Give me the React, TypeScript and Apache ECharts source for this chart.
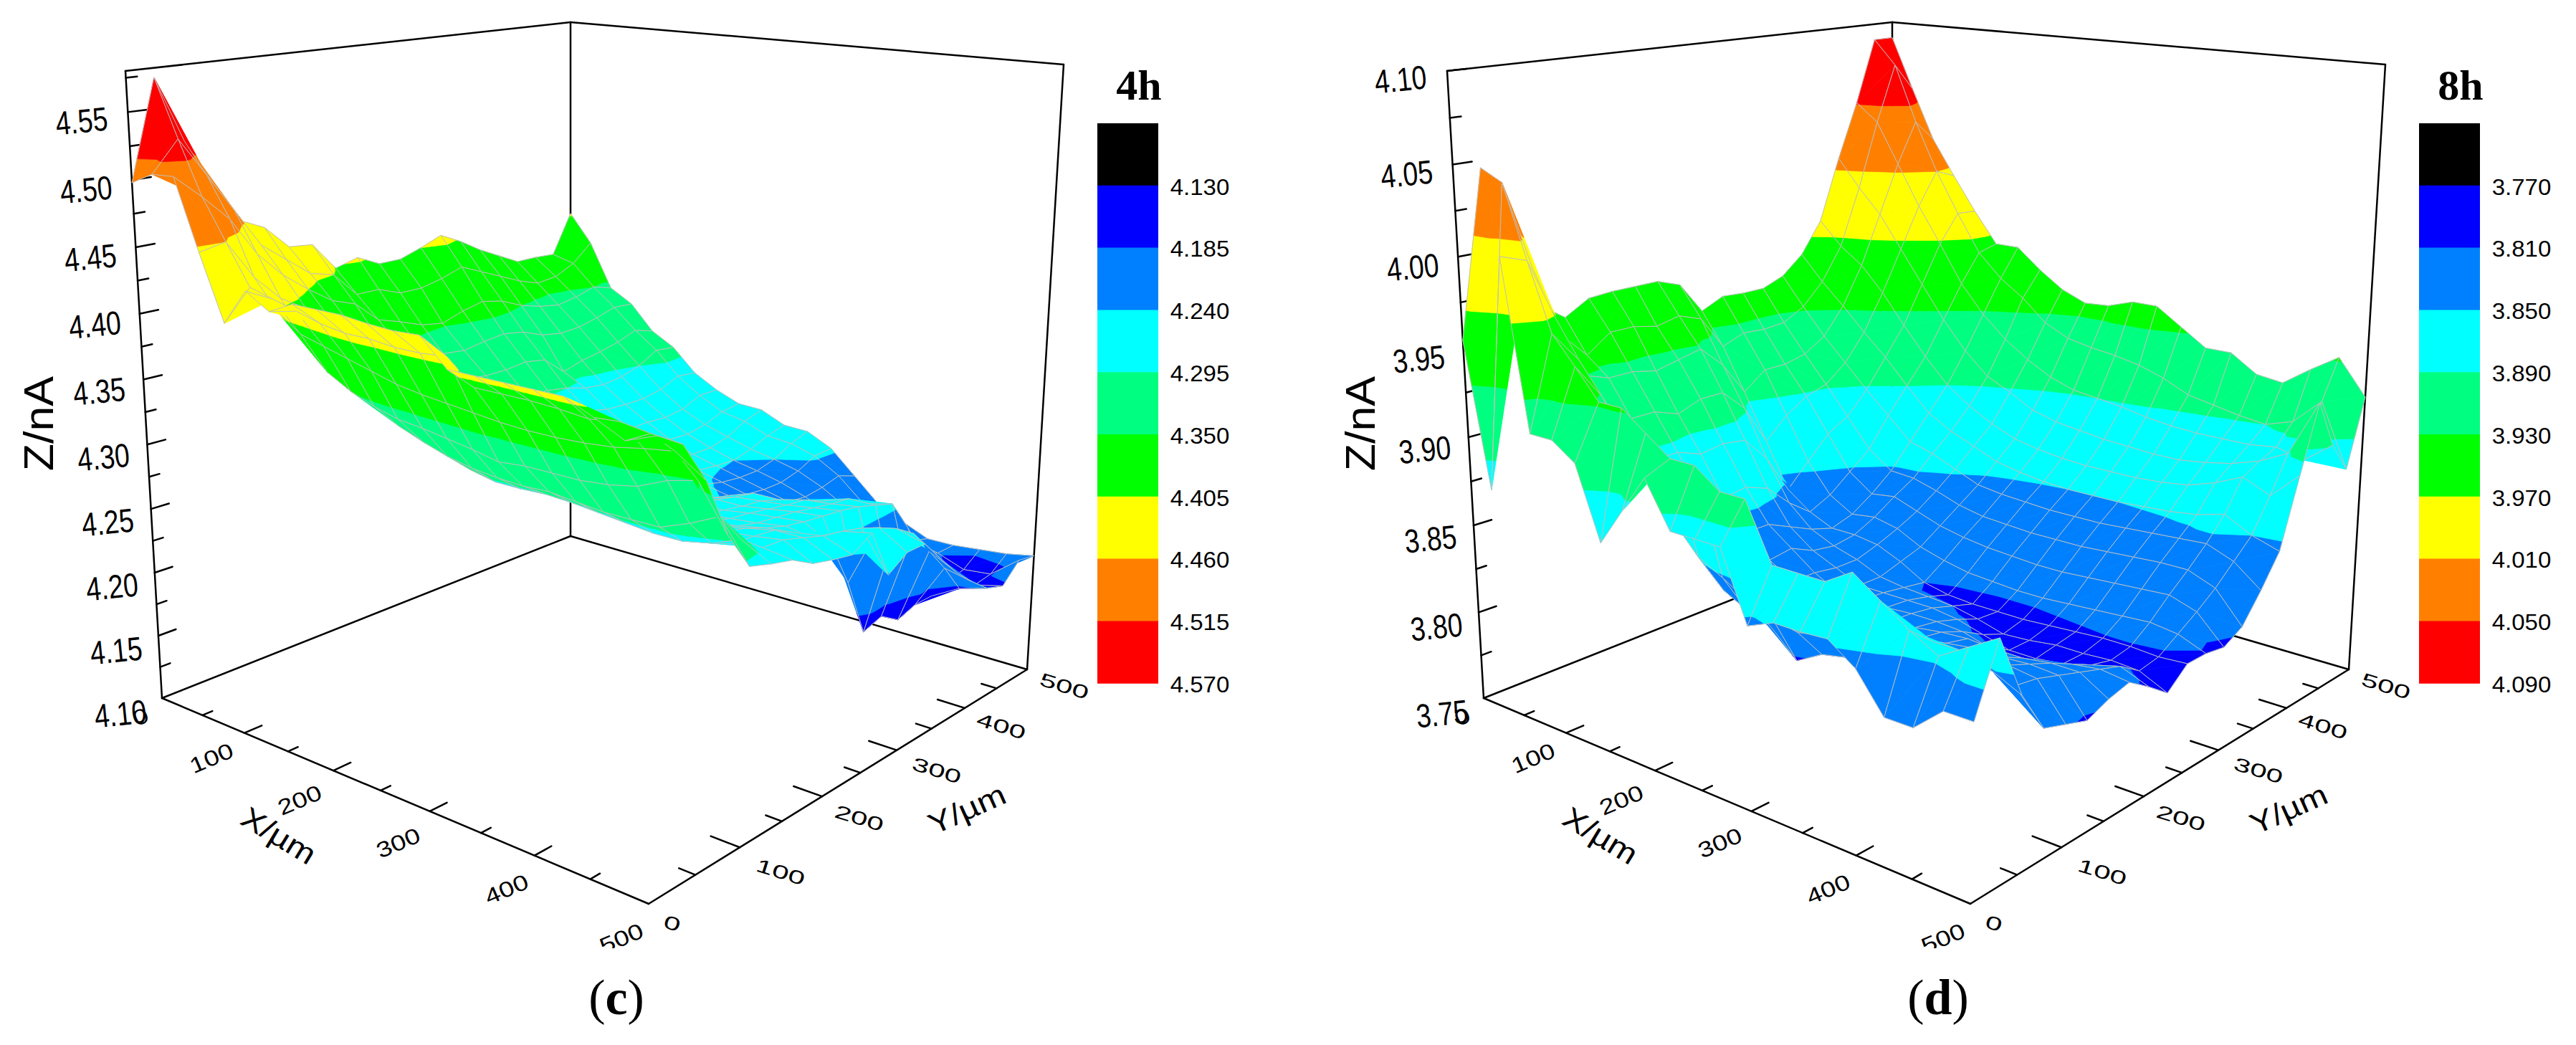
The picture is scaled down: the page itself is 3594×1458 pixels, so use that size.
import React, { useEffect, useRef } from "react";
import * as echarts from "echarts";

// Surface heights: row = X step (25 um), column = Y step (25 um)
const z4h = [
[4.498,4.573,4.523,4.489,4.456,4.447,4.428,4.426,4.403,4.408,4.399,4.399,4.405,4.412,4.403,4.392,4.383,4.374,4.374,4.373,4.407],
[4.507,4.530,4.500,4.470,4.440,4.425,4.410,4.405,4.385,4.385,4.378,4.378,4.382,4.388,4.380,4.372,4.364,4.358,4.360,4.368,4.383],
[4.508,4.490,4.470,4.440,4.420,4.405,4.392,4.385,4.368,4.362,4.355,4.352,4.358,4.362,4.358,4.350,4.345,4.342,4.345,4.350,4.345],
[4.456,4.460,4.430,4.410,4.398,4.385,4.372,4.362,4.350,4.342,4.335,4.333,4.336,4.338,4.335,4.328,4.325,4.326,4.330,4.335,4.334],
[4.408,4.430,4.408,4.385,4.372,4.362,4.350,4.342,4.332,4.325,4.318,4.316,4.316,4.318,4.315,4.300,4.305,4.308,4.312,4.318,4.313],
[4.435,4.425,4.395,4.362,4.345,4.335,4.327,4.320,4.315,4.308,4.302,4.300,4.298,4.298,4.295,4.290,4.288,4.290,4.295,4.304,4.302],
[4.424,4.420,4.390,4.352,4.335,4.322,4.312,4.305,4.300,4.295,4.290,4.287,4.284,4.283,4.280,4.276,4.275,4.275,4.278,4.285,4.283],
[4.433,4.415,4.385,4.345,4.325,4.310,4.300,4.293,4.288,4.284,4.280,4.277,4.274,4.272,4.268,4.264,4.264,4.263,4.265,4.272,4.272],
[4.433,4.412,4.380,4.340,4.318,4.302,4.290,4.284,4.278,4.275,4.272,4.270,4.266,4.263,4.260,4.256,4.254,4.253,4.256,4.262,4.264],
[4.433,4.412,4.375,4.338,4.312,4.296,4.285,4.280,4.274,4.270,4.266,4.263,4.260,4.256,4.252,4.248,4.246,4.246,4.250,4.258,4.263],
[4.431,4.410,4.372,4.335,4.308,4.292,4.284,4.280,4.272,4.266,4.262,4.258,4.254,4.250,4.246,4.243,4.241,4.240,4.244,4.250,4.254],
[4.430,4.410,4.370,4.332,4.306,4.292,4.284,4.278,4.270,4.263,4.258,4.254,4.250,4.246,4.242,4.238,4.236,4.236,4.240,4.248,4.253],
[4.431,4.412,4.368,4.328,4.305,4.293,4.284,4.277,4.268,4.262,4.256,4.252,4.247,4.242,4.238,4.233,4.231,4.231,4.235,4.242,4.243],
[4.412,4.395,4.366,4.330,4.306,4.292,4.284,4.276,4.268,4.261,4.257,4.255,4.252,4.248,4.245,4.232,4.226,4.224,4.226,4.230,4.224],
[4.412,4.395,4.365,4.330,4.304,4.290,4.282,4.276,4.268,4.262,4.258,4.255,4.252,4.250,4.245,4.232,4.221,4.216,4.214,4.212,4.205],
[4.412,4.395,4.365,4.330,4.302,4.288,4.280,4.276,4.270,4.264,4.260,4.258,4.255,4.252,4.250,4.243,4.225,4.208,4.204,4.200,4.195],
[4.412,4.394,4.366,4.332,4.302,4.286,4.280,4.278,4.272,4.266,4.262,4.260,4.258,4.255,4.252,4.250,4.240,4.205,4.194,4.191,4.186],
[4.412,4.392,4.368,4.336,4.302,4.286,4.281,4.280,4.276,4.270,4.265,4.262,4.260,4.258,4.255,4.250,4.245,4.220,4.192,4.186,4.186],
[4.403,4.395,4.372,4.345,4.310,4.290,4.283,4.282,4.280,4.272,4.262,4.250,4.215,4.170,4.175,4.165,4.170,4.170,4.175,4.178,4.188],
[4.393,4.392,4.375,4.350,4.320,4.298,4.286,4.285,4.280,4.275,4.272,4.268,4.262,4.255,4.245,4.225,4.205,4.182,4.178,4.180,4.190],
[4.401,4.390,4.361,4.319,4.292,4.287,4.283,4.274,4.270,4.267,4.276,4.239,4.249,4.249,4.231,4.214,4.200,4.188,4.183,4.197,4.194],
];
const z8h = [
[3.954,4.046,4.005,3.964,3.954,3.962,3.963,3.963,3.963,3.958,3.939,3.945,3.944,3.944,3.949,3.960,3.979,4.017,4.051,4.090,4.090],
[3.874,4.040,3.990,3.950,3.935,3.945,3.945,3.942,3.945,3.940,3.920,3.925,3.924,3.925,3.932,3.945,3.965,4.000,4.040,4.075,4.058],
[4.005,4.000,3.965,3.930,3.925,3.925,3.922,3.925,3.928,3.915,3.895,3.905,3.905,3.908,3.916,3.932,3.955,3.985,4.015,4.040,4.027],
[3.912,3.963,3.945,3.915,3.905,3.905,3.900,3.905,3.905,3.892,3.868,3.880,3.888,3.892,3.902,3.918,3.940,3.965,3.990,4.010,4.005],
[3.912,3.948,3.928,3.900,3.885,3.885,3.880,3.882,3.880,3.865,3.842,3.855,3.868,3.875,3.888,3.905,3.922,3.945,3.968,3.985,3.984],
[3.903,3.932,3.905,3.880,3.866,3.864,3.858,3.860,3.855,3.842,3.832,3.838,3.848,3.858,3.875,3.890,3.905,3.925,3.945,3.962,3.965],
[3.864,3.932,3.890,3.862,3.850,3.846,3.842,3.842,3.836,3.830,3.826,3.830,3.838,3.848,3.862,3.876,3.890,3.908,3.928,3.948,3.965],
[3.885,3.922,3.870,3.845,3.836,3.834,3.830,3.832,3.826,3.824,3.826,3.832,3.840,3.847,3.858,3.868,3.880,3.895,3.915,3.938,3.953],
[3.906,3.912,3.855,3.832,3.826,3.824,3.822,3.822,3.820,3.820,3.824,3.829,3.835,3.843,3.852,3.862,3.872,3.888,3.905,3.925,3.943],
[3.882,3.912,3.848,3.825,3.820,3.818,3.816,3.815,3.814,3.814,3.818,3.822,3.830,3.838,3.846,3.856,3.866,3.880,3.897,3.918,3.937],
[3.882,3.902,3.840,3.820,3.816,3.816,3.816,3.815,3.814,3.812,3.810,3.818,3.827,3.835,3.844,3.853,3.863,3.876,3.892,3.915,3.938],
[3.882,3.902,3.835,3.807,3.815,3.816,3.816,3.815,3.814,3.811,3.807,3.815,3.825,3.834,3.843,3.851,3.861,3.874,3.890,3.913,3.943],
[3.846,3.872,3.832,3.815,3.817,3.818,3.817,3.816,3.814,3.810,3.806,3.814,3.824,3.833,3.842,3.850,3.860,3.872,3.888,3.910,3.943],
[3.852,3.872,3.835,3.818,3.820,3.820,3.818,3.816,3.812,3.807,3.806,3.813,3.823,3.833,3.842,3.850,3.860,3.871,3.885,3.905,3.933],
[3.852,3.872,3.840,3.822,3.822,3.822,3.820,3.815,3.808,3.803,3.806,3.813,3.823,3.833,3.842,3.850,3.860,3.870,3.883,3.898,3.923],
[3.853,3.881,3.845,3.826,3.825,3.824,3.821,3.811,3.804,3.804,3.807,3.814,3.824,3.834,3.843,3.851,3.861,3.870,3.882,3.895,3.923],
[3.843,3.871,3.848,3.830,3.828,3.826,3.820,3.805,3.804,3.806,3.808,3.815,3.825,3.835,3.844,3.852,3.863,3.872,3.882,3.892,3.913],
[3.824,3.861,3.850,3.834,3.830,3.826,3.820,3.808,3.806,3.806,3.809,3.816,3.826,3.836,3.845,3.854,3.868,3.875,3.882,3.890,3.911],
[3.824,3.853,3.850,3.838,3.832,3.827,3.822,3.816,3.810,3.807,3.809,3.817,3.827,3.836,3.846,3.858,3.875,3.880,3.884,3.895,3.922],
[3.837,3.862,3.845,3.832,3.830,3.826,3.822,3.818,3.814,3.806,3.808,3.815,3.822,3.830,3.840,3.850,3.868,3.888,3.880,3.910,3.932],
[3.837,3.871,3.838,3.816,3.812,3.808,3.813,3.816,3.808,3.799,3.809,3.809,3.807,3.813,3.828,3.845,3.883,3.920,3.892,3.874,3.912],
];
const levels4h = [4.13, 4.185, 4.24, 4.295, 4.35, 4.405, 4.46, 4.515, 4.57];
const levels8h = [3.77, 3.81, 3.85, 3.89, 3.93, 3.97, 4.01, 4.05, 4.09];
const levelLabels4h = ["4.130", "4.185", "4.240", "4.295", "4.350", "4.405", "4.460", "4.515", "4.570"];
const levelLabels8h = ["3.770", "3.810", "3.850", "3.890", "3.930", "3.970", "4.010", "4.050", "4.090"];
const bandColors = ["#000000", "#0000ff", "#0080ff", "#00ffff", "#00ff80", "#00ff00", "#ffff00", "#ff8000", "#ff0000"];
const zTicks4h = [4.1, 4.15, 4.2, 4.25, 4.3, 4.35, 4.4, 4.45, 4.5, 4.55];
const zTicks8h = [3.75, 3.8, 3.85, 3.9, 3.95, 4.0, 4.05, 4.1];
const xyTicks = [0, 100, 200, 300, 400, 500];
const xyMinor = [50, 150, 250, 350, 450];

type P = [number, number];
function homography(q: P[]) {
  const [[x0, y0], [x1, y1], [x2, y2], [x3, y3]] = q;
  const dx1 = x1 - x2, dx2 = x3 - x2, sx = x0 - x1 + x2 - x3;
  const dy1 = y1 - y2, dy2 = y3 - y2, sy = y0 - y1 + y2 - y3;
  const den = dx1 * dy2 - dx2 * dy1;
  const g = (sx * dy2 - dx2 * sy) / den, h = (dx1 * sy - sx * dy1) / den;
  const a = x1 - x0 + g * x1, b = x3 - x0 + h * x3, d = y1 - y0 + g * y1, e = y3 - y0 + h * y3;
  return (u: number, v: number): P => {
    const w = g * u + h * v + 1;
    return [(a * u + b * v + x0) / w, (d * u + e * v + y0) / w];
  };
}
const floorH = homography([[226, 974], [905, 1261], [1433, 934], [796, 748]]);
const topH = homography([[175, 99], [926, 199], [1484, 90], [796, 31]]);
const RHO = 0.95;

type Panel = { dx: number; zMin: number; zMax: number; z: number[][]; levels: number[]; levelLabels: string[]; zTicks: number[]; title: string; cap: string };
const panels: Panel[] = [
  { dx: 0, zMin: 4.1, zMax: 4.58, z: z4h, levels: levels4h, levelLabels: levelLabels4h, zTicks: zTicks4h, title: "4h", cap: "c" },
  { dx: 1844, zMin: 3.75, zMax: 4.1, z: z8h, levels: levels8h, levelLabels: levelLabels8h, zTicks: zTicks8h, title: "8h", cap: "d" },
];

function proj(p: Panel, u: number, v: number, z: number): P {
  const t = (z - p.zMin) / (p.zMax - p.zMin);
  const tt = (t * RHO) / (1 - t + t * RHO);
  const f = floorH(u, v), g = topH(u, v);
  return [f[0] + (g[0] - f[0]) * tt + p.dx, f[1] + (g[1] - f[1]) * tt];
}

type V = [number, number, number];
function clip(poly: V[], lo: number, hi: number): V[] {
  const cut = (pts: V[], lim: number, keepAbove: boolean) => {
    const out: V[] = [];
    for (let i = 0; i < pts.length; i++) {
      const A = pts[i], B = pts[(i + 1) % pts.length];
      const ia = keepAbove ? A[2] >= lim : A[2] <= lim;
      const ib = keepAbove ? B[2] >= lim : B[2] <= lim;
      if (ia) out.push(A);
      if (ia !== ib) {
        const s = (lim - A[2]) / (B[2] - A[2]);
        out.push([A[0] + (B[0] - A[0]) * s, A[1] + (B[1] - A[1]) * s, lim]);
      }
    }
    return out;
  };
  let r = poly;
  if (lo > -Infinity) r = cut(r, lo, true);
  if (r.length && hi < Infinity) r = cut(r, hi, false);
  return r;
}

function surfaceSeries(p: Panel) {
  const cells: number[][] = [];
  for (let a = 0; a < 20; a++) for (let b = 0; b < 20; b++) cells.push([a, b]);
  cells.sort((m, n) => m[0] - m[1] - (n[0] - n[1]));
  const n = 20;
  return {
    type: "custom", coordinateSystem: "cartesian2d", silent: true, clip: false, progressive: 0, z: 5,
    data: cells,
    renderItem: (_: any, api: any) => {
      const a = api.value(0), b = api.value(1);
      const c = (i: number, j: number): V => [i / n, j / n, p.z[i][j]];
      const A = c(a, b), B = c(a + 1, b), C = c(a + 1, b + 1), D = c(a, b + 1);
      const toPx = (w: V) => api.coord(proj(p, w[0], w[1], w[2]));
      const children: any[] = [];
      for (const tri of [[A, B, C], [A, C, D]] as V[][]) {
        for (let k = 0; k < bandColors.length; k++) {
          const lo = k === 0 ? -Infinity : p.levels[k - 1];
          const hi = k === bandColors.length - 1 ? Infinity : p.levels[k];
          const part = clip(tri, lo, hi);
          if (part.length >= 3) {
            children.push({ type: "polygon", shape: { points: part.map(toPx) }, style: { fill: bandColors[k], stroke: bandColors[k], lineWidth: 0.7 } });
          }
        }
      }
      children.push({ type: "polygon", shape: { points: [A, B, C, D].map(toPx) }, style: { fill: "none", stroke: "#c0c0c0", lineWidth: 1 } });
      return { type: "group", children };
    },
  };
}

type Seg = { a: P; b: P; w: number };
function frameSegments(p: Panel): Seg[] {
  const { zMin: zn, zMax: zx } = p;
  const L = proj(p, 0, 0, zn), F = proj(p, 1, 0, zn), R = proj(p, 1, 1, zn), B = proj(p, 0, 1, zn);
  const LT = proj(p, 0, 0, zx), RT = proj(p, 1, 1, zx), BT = proj(p, 0, 1, zx);
  const w = 2.5;
  const s: Seg[] = [
    { a: LT, b: BT, w }, { a: BT, b: RT, w }, { a: LT, b: L, w }, { a: RT, b: R, w }, { a: BT, b: B, w },
    { a: L, b: B, w }, { a: B, b: R, w }, { a: L, b: F, w }, { a: F, b: R, w },
  ];
  p.zTicks.forEach((z, i) => {
    if (i > 0) s.push({ a: proj(p, 0, 0, z), b: proj(p, 0, 0.035, z), w });
    const m = z + 0.025;
    if (m < p.zMax) s.push({ a: proj(p, 0, 0, m), b: proj(p, 0, 0.02, m), w });
  });
  xyTicks.forEach((t) => {
    if (t > 0 && t < 500) {
      s.push({ a: proj(p, t / 500, 0, zn), b: proj(p, t / 500, 0.035, zn), w });
      s.push({ a: proj(p, 1, t / 500, zn), b: proj(p, 1 - 0.05, t / 500, zn), w });
    }
  });
  xyMinor.forEach((t) => {
    s.push({ a: proj(p, t / 500, 0, zn), b: proj(p, t / 500, 0.02, zn), w });
    s.push({ a: proj(p, 1, t / 500, zn), b: proj(p, 1 - 0.028, t / 500, zn), w });
  });
  return s;
}

function frameSeries(p: Panel) {
  const segs = frameSegments(p);
  return {
    type: "custom", coordinateSystem: "cartesian2d", silent: true, clip: false, z: 2,
    data: segs.map((_, i) => [i, 0]),
    renderItem: (params: any, api: any) => {
      const s = segs[params.dataIndex];
      const A = api.coord(s.a), B = api.coord(s.b);
      return { type: "line", shape: { x1: A[0], y1: A[1], x2: B[0], y2: B[1] }, style: { stroke: "#000", lineWidth: s.w, lineCap: "round" } };
    },
  };
}

function legendSeries(p: Panel) {
  const x0 = 1531 + p.dx, w = 85, y0 = 172, h = 86.8;
  return {
    type: "custom", coordinateSystem: "cartesian2d", silent: true, clip: false, z: 3,
    data: bandColors.map((_, i) => [i, 0]),
    renderItem: (params: any, api: any) => {
      const i = params.dataIndex;
      const tl = api.coord([x0, y0 + i * h]);
      return { type: "rect", shape: { x: tl[0], y: tl[1], width: w, height: h + 0.5 }, style: { fill: bandColors[i] } };
    },
  };
}

type Lab = { t: string; x: number; y: number; r: number; sx: number; sy: number; font: string };
const SANS = '"Liberation Sans", Arial, sans-serif';
const SERIF = '"Liberation Serif", "Times New Roman", serif';
function labels(p: Panel): Lab[] {
  const out: Lab[] = [];
  p.zTicks.forEach((z) => {
    const a = proj(p, 0, 0, z);
    const f = (z - p.zMin) / (p.zMax - p.zMin);
    out.push({ t: z.toFixed(2), x: a[0] - 58 - 7 * f, y: a[1] + 22 - 10 * f, r: 0.1, sx: 0.85, sy: 1.05, font: `44px ${SANS}` });
  });
  xyTicks.forEach((t, i) => {
    const a = proj(p, t / 500, 0, p.zMin);
    const off: P[] = [[-30, 26], [-46, 35], [-47, 41], [-44, 44], [-39, 47], [-38, 48]];
    out.push({ t: String(t), x: a[0] + off[i][0], y: a[1] + off[i][1], r: 0.4, sx: 1, sy: 0.8, font: `38px ${SANS}` });
    const b = proj(p, 1, t / 500, p.zMin);
    const offY: P[] = [[33, 27], [57, 34], [52, 30], [56, 28], [51, 25], [52, 23]];
    out.push({ t: String(t), x: b[0] + offY[i][0], y: b[1] + offY[i][1], r: -0.3, sx: 1, sy: 0.62, font: `42px ${SANS}` });
  });
  out.push({ t: "X/\u00b5m", x: 389 + p.dx, y: 1166, r: -0.55, sx: 1.05, sy: 0.9, font: `46px ${SANS}` });
  out.push({ t: "Y/\u00b5m", x: 1349 + p.dx, y: 1129, r: 0.42, sx: 1.05, sy: 0.9, font: `46px ${SANS}` });
  out.push({ t: "Z/nA", x: 54 + p.dx, y: 591, r: Math.PI / 2, sx: 1.08, sy: 1, font: `58px ${SANS}` });
  p.levelLabels.forEach((t, i) => {
    out.push({ t, x: 1633 + p.dx + 41, y: 172 + 86.8 * (i + 1) + 2, r: 0, sx: 1, sy: 0.95, font: `33px ${SANS}` });
  });
  out.push({ t: p.title, x: 1589 + p.dx, y: 119, r: 0, sx: 1, sy: 1, font: `bold 60px ${SERIF}` });
  return out;
}

function labelSeries(p: Panel) {
  const labs = labels(p);
  return {
    type: "custom", coordinateSystem: "cartesian2d", silent: true, clip: false, z: 8,
    data: labs.map((_, i) => [i, 0]),
    renderItem: (params: any, api: any) => {
      const l = labs[params.dataIndex];
      const c = api.coord([l.x, l.y]);
      return { type: "text", x: c[0], y: c[1], rotation: l.r, scaleX: l.sx, scaleY: l.sy, style: { text: l.t, font: l.font, fill: "#000", align: "center", verticalAlign: "middle" } };
    },
  };
}

function captionSeries(p: Panel) {
  return {
    type: "custom", coordinateSystem: "cartesian2d", silent: true, clip: false, z: 9,
    data: [[0, 0], [1, 0]],
    renderItem: (params: any, api: any) => {
      if (params.dataIndex === 0) {
        const tl = api.coord([810 + p.dx, 1323]);
        return { type: "rect", shape: { x: tl[0], y: tl[1], width: 110, height: 22 }, style: { fill: "#fff" } };
      }
      const c = api.coord([860 + p.dx, 1391]);
      return {
        type: "text", x: c[0], y: c[1],
        style: {
          text: "{a|(}{b|" + p.cap + "}{a|)}", align: "center", verticalAlign: "middle", fill: "#000",
          rich: { a: { font: `70px ${SERIF}`, fill: "#000" }, b: { font: `bold 70px ${SERIF}`, fill: "#000" } },
        },
      };
    },
  };
}

export default function App() {
  const ref = useRef<HTMLDivElement>(null);
  useEffect(() => {
    document.body.style.margin = "0";
    document.body.style.background = "#fff";
    const chart = echarts.init(ref.current!, undefined, { renderer: "svg" });
    const series: any[] = [];
    panels.forEach((p) => {
      series.push(frameSeries(p), legendSeries(p), surfaceSeries(p), labelSeries(p), captionSeries(p));
    });
    chart.setOption({
      animation: false,
      backgroundColor: "#fff",
      grid: { left: 0, right: 0, top: 0, bottom: 0 },
      xAxis: { type: "value", min: 0, max: 3594, show: false },
      yAxis: { type: "value", min: 0, max: 1458, inverse: true, show: false },
      series,
    });
    return () => chart.dispose();
  }, []);
  return <div ref={ref} style={{ position: "absolute", left: 0, top: 0, width: 3594, height: 1458 }} />;
}
